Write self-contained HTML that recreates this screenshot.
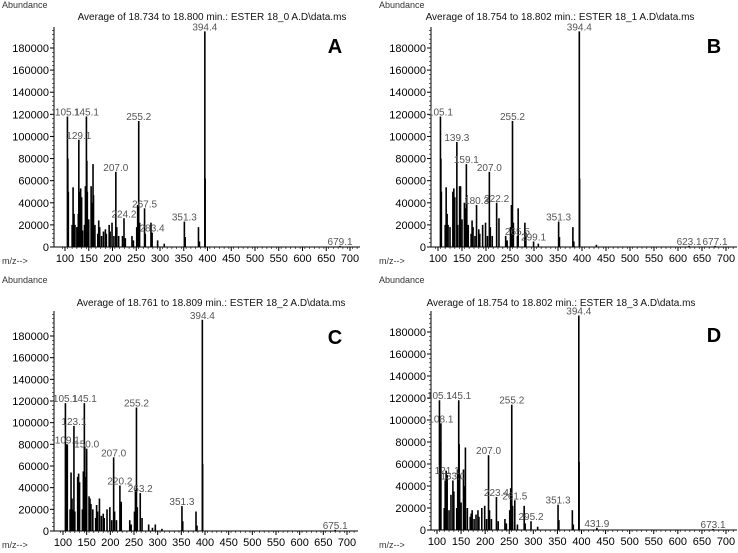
<!DOCTYPE html>
<html><head><meta charset="utf-8"><style>
html,body{margin:0;padding:0;background:#fff;}
svg{display:block;font-family:"Liberation Sans",Arial,sans-serif;}
</style></head><body>
<svg id="fig" width="738" height="553" viewBox="0 0 738 553" xmlns="http://www.w3.org/2000/svg"></svg>
<script>
// ---- data (m/z, abundance) ----
const aMz=[105.1,106,107,115,117,119,121,125,128,129.1,131,133,135,137,141,143,145.1,146,147,150,155,157,159,160,163,169,171,173,177,181,185,187,193,195,199,203,207.0,209,213,221,224.2,227,241,244,251,253,255.2,257,267.5,269,281,283.4,295,309,351.3,353,381,383,394.4,395,679.1];
const aAb=[118000,80000,50000,20000,54000,30000,20000,18000,30000,97000,50000,53000,45000,15000,20000,55000,118000,78000,50000,25000,55000,40000,75000,47000,20000,12000,24000,18000,10000,14000,16000,12000,20000,14000,22000,10000,68000,18000,10000,10000,26000,8000,10000,6000,18000,38000,114000,22000,35000,12000,22000,13000,6000,3000,23000,9000,18000,5000,195000,62000,1000];
const aLbl=[105.1,145.1,129.1,255.2,207.0,224.2,267.5,283.4,351.3,394.4,679.1];

const bMz=[105.1,106,107,115,117,119,121,125,131,133,135,139.3,141,145,147,150,155,157,159.1,160,163,169,171,173,177,180.3,185,187,193,199,203,207.0,209,213,222.2,227,241,244,251,253,255.2,257,265.5,267,281,283,299.1,309,351.3,353,381,383,394.4,395,430,623.1,677.1];
const bAb=[118000,80000,50000,20000,54000,30000,20000,18000,50000,53000,45000,95000,20000,55000,55000,25000,40000,35000,75000,47000,20000,12000,24000,18000,10000,38000,16000,12000,20000,22000,10000,68000,18000,10000,40000,26000,10000,6000,18000,38000,114000,22000,10000,35000,22000,13000,5000,3000,23000,9000,18000,5000,195000,62000,2000,1000,1000];
const bLbl=[105.1,139.3,159.1,207.0,180.3,222.2,255.2,265.5,299.1,351.3,394.4,623.1,677.1];

const cMz=[105.1,106,107,109.1,115,117,119,121,123.1,125,131,133,135,141,143,145.1,146,147,150.0,155,157,159,163,169,171,173,177,181,185,187,193,199,203,207.0,209,213,220.2,223,241,244,251,253,255.2,257,263.2,267,281,289,295,309,351.3,353,381,383,394.4,395,675.1];
const cAb=[118000,80000,50000,80000,20000,54000,30000,20000,97000,18000,50000,53000,45000,20000,55000,118000,78000,50000,76000,32000,30000,25000,20000,12000,24000,18000,30000,14000,16000,12000,20000,22000,10000,68000,18000,10000,42000,27000,10000,6000,18000,38000,114000,22000,35000,12000,6000,3000,6000,2000,23000,9000,18000,5000,195000,62000,1000];
const cLbl=[105.1,145.1,123.1,109.1,150.0,207.0,220.2,263.2,255.2,351.3,394.4,675.1];

const dMz=[105.1,106,107,108.1,115,117,119,121.1,125,129,133.0,135,141,143,145.1,146,147,150,155,157,159,163,169,171,173,177,181,185,187,193,199,203,207.0,209,213,223.4,227,241,244,251,253,255.2,257,261.5,267,281,283,295.2,309,351.3,353,381,383,394.4,395,431.9,673.1];
const dAb=[118000,80000,50000,97000,20000,45000,54000,50000,18000,32000,45000,35000,20000,55000,118000,78000,50000,25000,55000,40000,75000,20000,12000,15000,18000,10000,14000,18000,12000,20000,22000,10000,68000,18000,10000,30000,8000,10000,6000,18000,38000,114000,22000,27000,5000,22000,6000,8000,3000,23000,9000,18000,5000,195000,62000,2000,1000];
const dLbl=[105.1,108.1,145.1,121.1,133.0,207.0,223.4,255.2,261.5,295.2,351.3,394.4,431.9,673.1];

const yTicks=[0,20000,40000,60000,80000,100000,120000,140000,160000,180000];
const xTicks=[100,150,200,250,300,350,400,450,500,550,600,650,700];

const NS="http://www.w3.org/2000/svg";
const svg=document.getElementById('fig');
function mk(tag,attrs,parent){const e=document.createElementNS(NS,tag);for(const k in attrs)e.setAttribute(k,attrs[k]);(parent||svg).appendChild(e);return e;}

const panels=[
 {id:'a',letter:'A',title:'Average of 18.734 to 18.800 min.: ESTER  18_0 A.D\\data.ms',ax:54,x100:65,x700:350,y0:247,y180:48,top:27,right:360,tx:212,ty:20,abx:2,aby:8,mzy:264,lx:335,ly:53,mz:aMz,ab:aAb,lbl:aLbl},
 {id:'b',letter:'B',title:'Average of 18.754 to 18.802 min.: ESTER  18_1 A.D\\data.ms',ax:431,x100:438,x700:726,y0:247,y180:48,top:27,right:737,tx:560,ty:20,abx:379,aby:8,mzy:264,lx:714,ly:53,mz:bMz,ab:bAb,lbl:bLbl},
 {id:'c',letter:'C',title:'Average of 18.761 to 18.809 min.: ESTER  18_2 A.D\\data.ms',ax:54,x100:63,x700:347,y0:531,y180:336,top:311,right:358,tx:211,ty:306,abx:2,aby:283,mzy:548,lx:335,ly:344,mz:cMz,ab:cAb,lbl:cLbl},
 {id:'d',letter:'D',title:'Average of 18.754 to 18.802 min.: ESTER  18_3 A.D\\data.ms',ax:431,x100:437,x700:726,y0:530,y180:332,top:311,right:737,tx:561,ty:306,abx:379,aby:283,mzy:548,lx:714,ly:342,mz:dMz,ab:dAb,lbl:dLbl}
];

panels.forEach(p=>{
  const g=mk('g',{});
  
  
  const xs=v=>p.x100+(v-100)*(p.x700-p.x100)/600;
  const ys=v=>p.y0-v*(p.y0-p.y180)/180000;
  let t=mk('text',{x:p.abx,y:p.aby,'font-size':9,fill:'#333'},g);t.textContent='Abundance';
  
  
  t=mk('text',{x:p.abx,y:p.mzy,'font-size':9,fill:'#333'},g);t.textContent='m/z-->';
  
  
  t=mk('text',{x:p.tx,y:p.ty,'font-size':10,'text-anchor':'middle',fill:'#111'},g);t.textContent=p.title;
  
  
  t=mk('text',{x:p.lx,y:p.ly,'font-size':20,'font-weight':'bold','text-anchor':'middle',fill:'#000'},g);t.textContent=p.letter;
  
  
  let l=mk('line',{x1:p.ax,y1:p.top,x2:p.ax,y2:p.y0,stroke:'#000','stroke-width':1},g);
  
  
  l=mk('line',{x1:p.ax,y1:p.y0,x2:p.right,y2:p.y0,stroke:'#000','stroke-width':1},g);
  
  
  for(let v=0;ys(v)>p.top;v+=4000){mk('line',{x1:p.ax-2,y1:ys(v),x2:p.ax,y2:ys(v),stroke:'#000','stroke-width':0.6},g);}
  yTicks.forEach(v=>{
    mk('line',{x1:p.ax-4,y1:ys(v),x2:p.ax,y2:ys(v),stroke:'#000'},g);
    const tt=mk('text',{x:p.ax-5,y:ys(v)+4,'font-size':11,'text-anchor':'end',fill:'#000'},g);
    tt.textContent=v;
    
    
  });
  for(let v=95;v<=720;v+=10){mk('line',{x1:xs(v),y1:p.y0,x2:xs(v),y2:p.y0+2,stroke:'#000','stroke-width':0.6},g);}
  xTicks.forEach(v=>{
    mk('line',{x1:xs(v),y1:p.y0,x2:xs(v),y2:p.y0+4,stroke:'#000'},g);
    const tt=mk('text',{x:xs(v),y:p.y0+15,'font-size':11,'text-anchor':'middle',fill:'#000'},g);
    tt.textContent=v;
    
    
  });
  p.mz.forEach((m,i)=>{
    const ln=mk('line',{x1:xs(m),y1:p.y0,x2:xs(m),y2:ys(p.ab[i]),stroke:'#000','stroke-width':1.6},g);
    
    
  });
  p.lbl.forEach(m=>{
    const i=p.mz.indexOf(m);
    const tt=mk('text',{x:xs(m),y:ys(p.ab[i])-1,'font-size':10,'text-anchor':'middle',fill:'#555'},g);
    tt.textContent=m.toFixed(1);
    
    
  });
});
</script>
</body></html>
